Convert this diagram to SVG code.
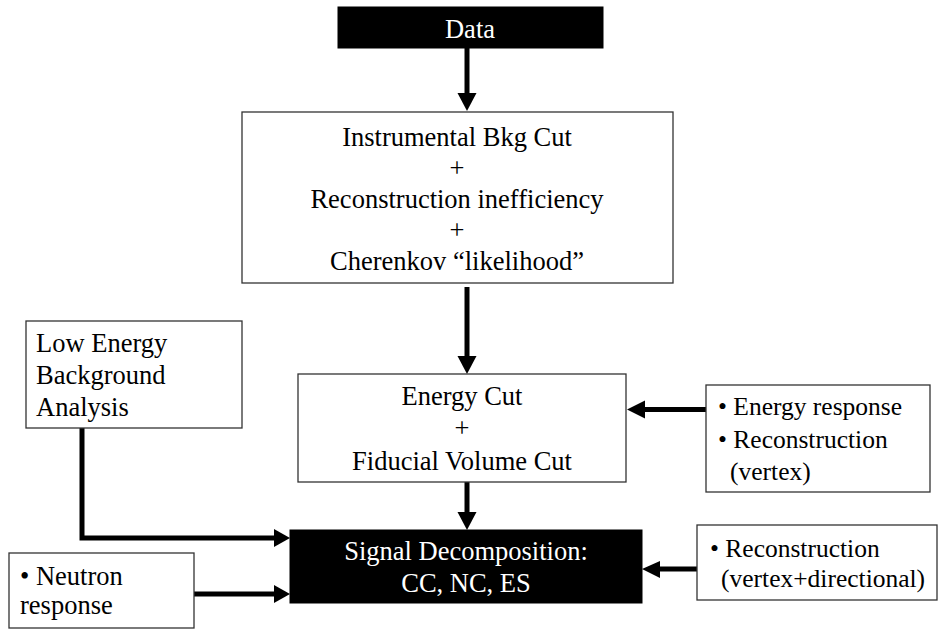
<svg xmlns="http://www.w3.org/2000/svg" width="938" height="629" viewBox="0 0 938 629">
<style>
.box{fill:#fff;stroke:#333;stroke-width:1.3}
.dark{fill:#000;stroke:#000;stroke-width:1}
text{font-family:"Liberation Serif","Times New Roman",serif;font-size:26.5px;fill:#000}
.c{text-anchor:middle}
.w{fill:#fff}
.sm{font-size:25.5px}
.ln{fill:none;stroke:#000;stroke-width:5}
.hd{fill:#000}
</style>
<rect width="938" height="629" fill="#fff"/>
<g id="connectors">
<line class="ln" x1="467" y1="48" x2="467" y2="95"/>
<polygon class="hd" points="457.5,93 476.5,93 467,111"/>
<line class="ln" x1="467" y1="287" x2="467" y2="358"/>
<polygon class="hd" points="457.5,356 476.5,356 467,374"/>
<line class="ln" x1="467" y1="482" x2="467" y2="514"/>
<polygon class="hd" points="457.5,512 476.5,512 467,530"/>
<polyline class="ln" points="82,428 82,538 276,538"/>
<polygon class="hd" points="274,529 274,547 290,538"/>
<line class="ln" x1="194" y1="594" x2="276" y2="594"/>
<polygon class="hd" points="274,585 274,603 290,594"/>
<line class="ln" x1="706" y1="409.5" x2="643" y2="409.5"/>
<polygon class="hd" points="645,400.5 645,418.5 627,409.5"/>
<line class="ln" x1="697" y1="569" x2="658" y2="569"/>
<polygon class="hd" points="660,561 660,578 642,569"/>
</g>
<g id="data">
<rect class="dark" x="338" y="7" width="265" height="41"/>
<text class="c w" x="470" y="38">Data</text>
</g>
<g id="cuts">
<rect class="box" x="242" y="112" width="431" height="171"/>
<text class="c" x="457" y="146">Instrumental Bkg Cut</text>
<text class="c" x="457" y="177">+</text>
<text class="c" x="457" y="208">Reconstruction inefficiency</text>
<text class="c" x="457" y="239">+</text>
<text class="c" x="457" y="270">Cherenkov “likelihood”</text>
</g>
<g id="lowenergy">
<rect class="box" x="26" y="321" width="216" height="107"/>
<text x="36" y="352">Low Energy</text>
<text x="36" y="384">Background</text>
<text x="36" y="416">Analysis</text>
</g>
<g id="energycut">
<rect class="box" x="298" y="374" width="328" height="108"/>
<text class="c" x="462" y="405">Energy Cut</text>
<text class="c" x="462" y="437">+</text>
<text class="c" x="462" y="470">Fiducial Volume Cut</text>
</g>
<g id="energyresponse">
<rect class="box" x="706" y="385" width="224" height="107"/>
<text class="sm" x="718" y="415">• Energy response</text>
<text class="sm" x="718" y="448">• Reconstruction</text>
<text class="sm" x="730" y="480">(vertex)</text>
</g>
<g id="signal">
<rect class="dark" x="290" y="530" width="352" height="73"/>
<text class="c w" x="466" y="560">Signal Decomposition:</text>
<text class="c w" x="466" y="592">CC, NC, ES</text>
</g>
<g id="neutron">
<rect class="box" x="9" y="553" width="185" height="75"/>
<text x="20" y="585">• Neutron</text>
<text x="20" y="614">response</text>
</g>
<g id="recon">
<rect class="box" x="697" y="525" width="240" height="75"/>
<text class="sm" x="710" y="557">• Reconstruction</text>
<text class="sm" x="721" y="587">(vertex+directional)</text>
</g>
</svg>
